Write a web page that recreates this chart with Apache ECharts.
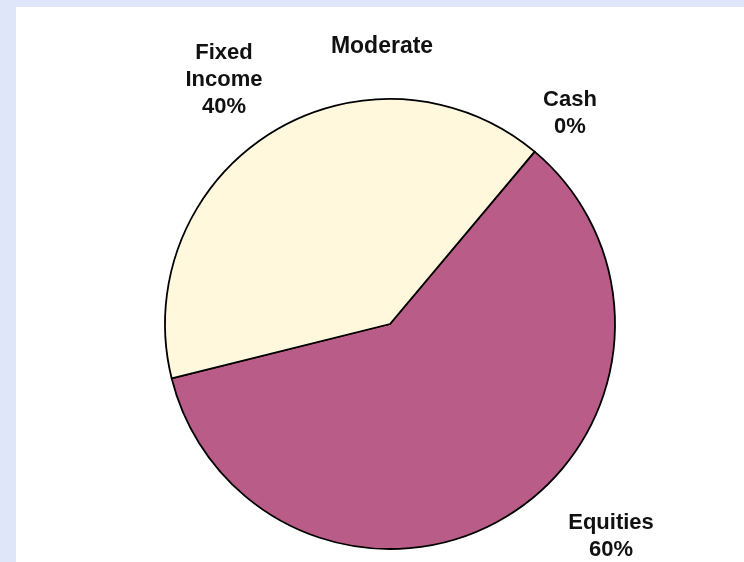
<!DOCTYPE html>
<html>
<head>
<meta charset="utf-8">
<style>
  html, body { margin: 0; padding: 0; width: 744px; height: 562px; background: #dfe6fa; overflow: hidden; }
  #chart { position: absolute; left: 16px; top: 7px; width: 728px; height: 555px; background: #ffffff; }
</style>
<script src="https://cdn.jsdelivr.net/npm/echarts@6/dist/echarts.min.js"></script>
</head>
<body>
<div id="chart"></div>
<script>
// Asset allocation for the "Moderate" portfolio
var chartTitle = 'Moderate';
var categories = ['Cash', 'Equities', 'Fixed Income'];
var shares = [0, 60, 40];
var sliceColors = ['#d9d9d9', '#b95c88', '#fff8dc'];

// Where each slice's caption sits (chart pixels, centre of the text block)
var labelSpots = [[554, 106], [595, 529], [208, 73]];

var chart = echarts.init(document.getElementById('chart'), null, { renderer: 'canvas' });

var data = categories.map(function (name, i) {
  return { name: name, value: shares[i], itemStyle: { color: sliceColors[i] } };
});

chart.setOption({
  animation: false,
  title: {
    text: chartTitle,
    left: 361,
    top: 23,
    textAlign: 'center',
    textStyle: { fontFamily: 'Liberation Sans, Arial, sans-serif', fontWeight: 'bold', fontSize: 23, color: '#111111' }
  },
  series: [{
    type: 'pie',
    center: [374, 317],
    radius: 225,
    startAngle: 50,
    clockwise: true,
    minAngle: 0,
    avoidLabelOverlap: false,
    emphasis: { disabled: true },
    itemStyle: { borderColor: '#000000', borderWidth: 1.8 },
    labelLine: { show: false },
    label: {
      show: true,
      position: 'outside',
      formatter: function (p) { return p.name.replace(' ', '\n') + '\n' + p.value + '%'; },
      fontFamily: 'Liberation Sans, Arial, sans-serif',
      fontWeight: 'bold',
      fontSize: 22,
      lineHeight: 27,
      color: '#111111',
      align: 'center'
    },
    labelLayout: function (params) {
      var s = labelSpots[params.dataIndex];
      return { x: s[0], y: s[1], align: 'center', verticalAlign: 'middle' };
    },
    data: data
  }]
});
</script>
</body>
</html>
